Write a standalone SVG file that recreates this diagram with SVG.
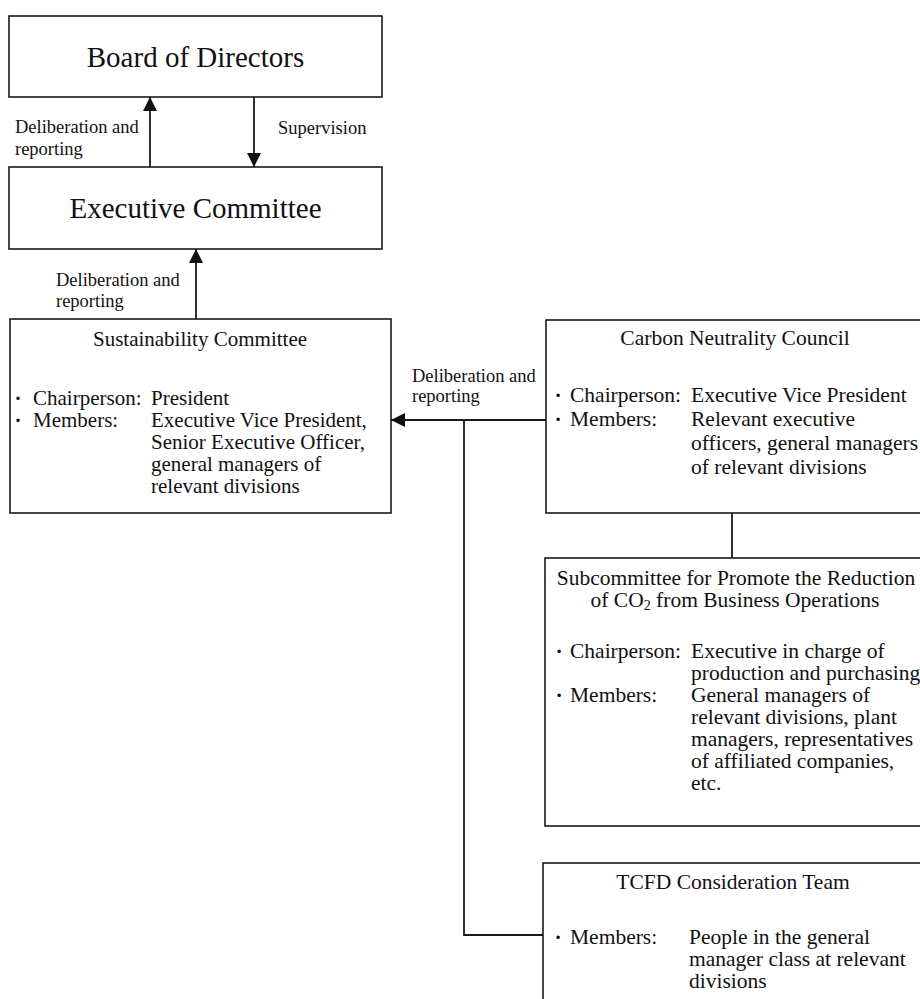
<svg xmlns="http://www.w3.org/2000/svg" width="920" height="999" viewBox="0 0 920 999">
<style>
  text { font-family: "Liberation Serif", "Times New Roman", serif; fill: #111; }
  .box { fill: #fff; stroke: #1a1a1a; stroke-width: 1.6; }
  .big { font-size: 29px; text-anchor: middle; }
  .ttl { font-size: 21.5px; text-anchor: middle; }
  .ttlL { font-size: 21px; text-anchor: middle; }
  .bodyL { font-size: 21px; }
  .bodyR { font-size: 21.5px; }
  .lbl { font-size: 18.5px; }
  .bul { text-anchor: middle; font-weight: bold; }
  .conn { fill: none; stroke: #1a1a1a; stroke-width: 1.8; }
</style>
<defs>
  <marker id="arr" markerUnits="userSpaceOnUse" markerWidth="14" markerHeight="14" viewBox="0 0 13 13" refX="13" refY="6.5" orient="auto">
    <path d="M0,0 L13,6.5 L0,13 z" fill="#111"/>
  </marker>
</defs>

<g id="connectors">
  <line class="conn" x1="150" y1="167" x2="150" y2="97" marker-end="url(#arr)"/>
  <line class="conn" x1="254" y1="97" x2="254" y2="167" marker-end="url(#arr)"/>
  <line class="conn" x1="196" y1="319" x2="196" y2="249" marker-end="url(#arr)"/>
  <line class="conn" x1="546" y1="420" x2="391" y2="420" marker-end="url(#arr)"/>
  <polyline class="conn" points="464,420 464,935 543,935"/>
  <line class="conn" x1="732" y1="513" x2="732" y2="558"/>
  <text class="lbl" x="15" y="133">Deliberation and</text>
  <text class="lbl" x="15" y="155">reporting</text>
  <text class="lbl" x="278" y="134">Supervision</text>
  <text class="lbl" x="56" y="286">Deliberation and</text>
  <text class="lbl" x="56" y="307">reporting</text>
  <text class="lbl" x="412" y="382">Deliberation and</text>
  <text class="lbl" x="412" y="402">reporting</text>
</g>

<g id="board">
  <rect class="box" x="9" y="16" width="373" height="81"/>
  <text class="big" x="195.5" y="67">Board of Directors</text>
</g>

<g id="executive">
  <rect class="box" x="9" y="167" width="373" height="82"/>
  <text class="big" x="195.5" y="218">Executive Committee</text>
</g>

<g id="sustainability">
  <rect class="box" x="10" y="319" width="381" height="194"/>
  <text class="ttlL" x="200" y="346">Sustainability Committee</text>
  <g class="bodyL">
    <text class="bul" x="18" y="405">·</text>
    <text x="33" y="405">Chairperson:</text>
    <text x="151" y="405">President</text>
    <text class="bul" x="18" y="427">·</text>
    <text x="33" y="427">Members:</text>
    <text x="151" y="427">Executive Vice President,</text>
    <text x="151" y="449">Senior Executive Officer,</text>
    <text x="151" y="471">general managers of</text>
    <text x="151" y="493">relevant divisions</text>
  </g>
</g>

<g id="carbon">
  <rect class="box" x="546" y="320" width="390" height="193"/>
  <text class="ttl" x="735" y="345">Carbon Neutrality Council</text>
  <g class="bodyR">
    <text class="bul" x="558" y="402">·</text>
    <text x="570" y="402">Chairperson:</text>
    <text x="691" y="402">Executive Vice President</text>
    <text class="bul" x="558" y="426">·</text>
    <text x="570" y="426">Members:</text>
    <text x="691" y="426">Relevant executive</text>
    <text x="691" y="450">officers, general managers</text>
    <text x="691" y="474">of relevant divisions</text>
  </g>
</g>

<g id="subcommittee">
  <rect class="box" x="545" y="558" width="391" height="268"/>
  <text class="ttl" x="736" y="585">Subcommittee for Promote the Reduction</text>
  <text class="ttl" x="735" y="607">of CO<tspan font-size="14" dy="3">2</tspan><tspan dy="-3"> from Business Operations</tspan></text>
  <g class="bodyR">
    <text class="bul" x="559" y="658">·</text>
    <text x="570" y="658">Chairperson:</text>
    <text x="691" y="658">Executive in charge of</text>
    <text x="691" y="680">production and purchasing</text>
    <text class="bul" x="559" y="702">·</text>
    <text x="570" y="702">Members:</text>
    <text x="691" y="702">General managers of</text>
    <text x="691" y="724">relevant divisions, plant</text>
    <text x="691" y="746">managers, representatives</text>
    <text x="691" y="768">of affiliated companies,</text>
    <text x="691" y="790">etc.</text>
  </g>
</g>

<g id="tcfd">
  <rect class="box" x="543" y="863" width="393" height="160"/>
  <text class="ttl" x="733" y="889">TCFD Consideration Team</text>
  <g class="bodyR">
    <text class="bul" x="558" y="944">·</text>
    <text x="570" y="944">Members:</text>
    <text x="689" y="944">People in the general</text>
    <text x="689" y="966">manager class at relevant</text>
    <text x="689" y="988">divisions</text>
  </g>
</g>
</svg>
